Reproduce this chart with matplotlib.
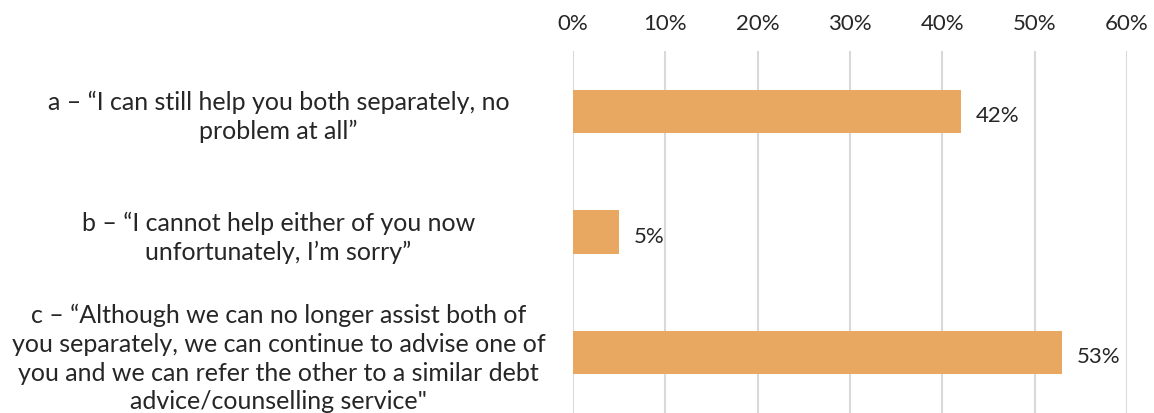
import matplotlib.pyplot as plt
from matplotlib.ticker import PercentFormatter

plt.rcParams['font.family'] = ['Lato', 'DejaVu Sans']

# Responses and share of answers
labels = [
    'a \u2013 \u201cI can still help you both separately, no\nproblem at all\u201d',
    'b \u2013 \u201cI cannot help either of you now\nunfortunately, I\u2019m sorry\u201d',
    'c \u2013 \u201cAlthough we can no longer assist both of\nyou separately, we can continue to advise one of\n'
    'you and we can refer the other to a similar debt\nadvice/counselling service"',
]
values = [42, 5, 53]
ticks = [0, 10, 20, 30, 40, 50, 60]

bar_color = '#E8A862'
text_color = '#262626'

fig = plt.figure(figsize=(11.54, 4.14), dpi=100)
ax = fig.add_axes([0.4965, 0.0, 0.4801, 0.8744])

pos = list(range(len(values)))
ax.barh(pos, values, height=0.36, color=bar_color, zorder=2)

for y, v in zip(pos, values):
    ax.text(v + 1.6, y + 0.03, f'{v}%', va='center', ha='left',
            fontsize=16, color=text_color)

ax.set_ylim(2.5, -0.5)
ax.set_xlim(0, 60)
ax.set_xticks(ticks)
ax.xaxis.set_major_formatter(PercentFormatter(decimals=0))
ax.xaxis.tick_top()
ax.tick_params(axis='x', length=0, pad=13, labelsize=16, labelcolor=text_color)
ax.grid(axis='x', color='#D9D9D9', linewidth=1.5, zorder=0)

ax.set_yticks(pos)
ax.set_yticklabels(labels, fontsize=18, color=text_color, ha='center',
                   linespacing=1.3)
ax.tick_params(axis='y', length=0, pad=212)

for s in ax.spines.values():
    s.set_visible(False)

fig.savefig('out.png', dpi=100)
